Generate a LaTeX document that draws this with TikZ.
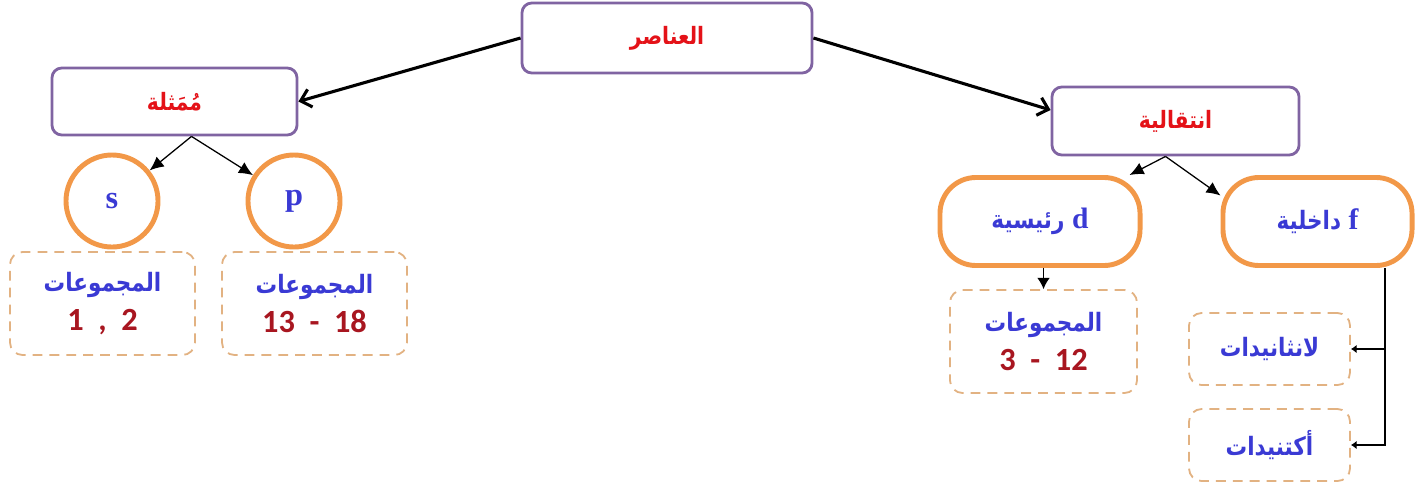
\documentclass[tikz,border=0pt]{standalone}
\usepackage{fontspec}
\usepackage{tikz}
\usetikzlibrary{arrows.meta,positioning,calc}
\TeXXeTstate=1
\newfontfamily\arabicfont[Script=Arabic,FakeStretch=0.85]{DejaVu Sans}
\newfontfamily\latinserif{Liberation Serif}
\newfontfamily\numfont{Carlito}
\definecolor{framecolor}{RGB}{128,100,162}
\definecolor{ringcolor}{RGB}{242,152,72}
\definecolor{dashcolor}{RGB}{226,178,130}
\definecolor{titlecolor}{RGB}{228,18,24}
\definecolor{namecolor}{RGB}{58,58,212}
\definecolor{numcolor}{RGB}{168,22,32}
\newcommand{\artxt}[1]{{\arabicfont\bfseries\beginR #1\endR}}
\newcommand{\grpnum}[1]{{\numfont\bfseries\color{numcolor}\fontsize{23}{25}\selectfont #1}}

\begin{document}
\begin{tikzpicture}[x=0.025cm, y=-0.025cm,
    classbox/.style={draw=framecolor, line width=2pt, rounded corners=7pt, fill=white,
      text=titlecolor, font=\fontsize{17}{20}\selectfont},
    ringnode/.style={circle, draw=ringcolor, line width=3.5pt, minimum size=2.3cm,
      text=namecolor, font=\latinserif\bfseries\fontsize{23}{25}\selectfont},
    capsule/.style={draw=ringcolor, line width=3.5pt, rounded corners=0.9cm,
      minimum height=2.2cm, text=namecolor, font=\fontsize{18}{21}\selectfont},
    groupbox/.style={draw=dashcolor, line width=1.3pt, dash pattern=on 7pt off 5pt,
      rounded corners=9pt, align=center, text=namecolor, font=\fontsize{18}{21}\selectfont},
    bigarrow/.style={line width=2.2pt, -{Straight Barb[length=7pt,width=13pt,line width=2.2pt]}},
    thinarrow/.style={line width=0.9pt, -{Latex[length=10pt,width=9pt]}}]
  \useasboundingbox (0,0) rectangle (1424,488);

  % top and the two families
  \node[classbox, minimum width=7.25cm, minimum height=1.75cm] (elem) at (667,38) {\artxt{العناصر}};
  \node[classbox, minimum width=6.125cm, minimum height=1.675cm] (rep) at (174.5,101.5) {\artxt{مُمَثلة}};
  \node[classbox, minimum width=6.175cm, minimum height=1.7cm] (trans) at (1175.5,121) {\artxt{انتقالية}};

  \draw[bigarrow] (elem.west) -- (rep.east);
  \draw[bigarrow] (elem.east) -- ($(trans.west)+(0,-11)$);

  % s and p blocks
  \node[ringnode] (sblk) at (112,201) {s};
  \node[ringnode] (pblk) at (294,201) {p};
  \coordinate (repbot) at ($(rep.south)+(17,0)$);
  \draw[thinarrow] (repbot) -- (sblk);
  \draw[thinarrow] (repbot) -- (pblk);

  \node[groupbox, minimum width=4.625cm, minimum height=2.575cm] (sgrp) at (102.5,303.5)
    {\artxt{المجموعات}\\[7pt]\grpnum{1~~,~~2}};
  \node[groupbox, minimum width=4.625cm, minimum height=2.575cm] (pgrp) at (314.5,303.5)
    {\artxt{المجموعات}\\[7pt]\grpnum{13~~-~~18}};

  % d and f blocks
  \node[capsule, minimum width=5cm] (dblk) at (1040,221.5)
    {\artxt{رئيسية}~{\latinserif\bfseries\fontsize{21}{23}\selectfont d}};
  \node[capsule, minimum width=4.725cm] (fblk) at (1317.5,221.5)
    {\artxt{داخلية}~{\latinserif\bfseries\fontsize{21}{23}\selectfont f}};
  \coordinate (transbot) at ($(trans.south)+(-10,0)$);
  \draw[thinarrow] (transbot) -- (dblk);
  \draw[thinarrow] (transbot) -- (fblk.165);

  \node[groupbox, minimum width=4.675cm, minimum height=2.575cm] (dgrp) at (1043.5,341.5)
    {\artxt{المجموعات}\\[7pt]\grpnum{3~~-~~12}};
  \draw[line width=0.9pt, -{Latex[length=8pt,width=9pt]}] (dgrp.north |- dblk.south) -- (dgrp.north);

  \node[groupbox, minimum width=4.025cm, minimum height=1.8cm] (lanth) at (1269.5,349) {\artxt{لانثانيدات}};
  \node[groupbox, minimum width=4.025cm, minimum height=1.8cm] (actin) at (1269.5,445) {\artxt{أكتنيدات}};

  \coordinate (ftap) at ($(fblk.south)+(67.5,0)$);
  \draw[line width=0.9pt, -{Latex[length=4pt,width=6pt]}] (ftap) |- (actin.east);
  \draw[line width=0.9pt, -{Latex[length=4pt,width=6pt]}] (ftap |- lanth.east) -- (lanth.east);
\end{tikzpicture}
\end{document}
